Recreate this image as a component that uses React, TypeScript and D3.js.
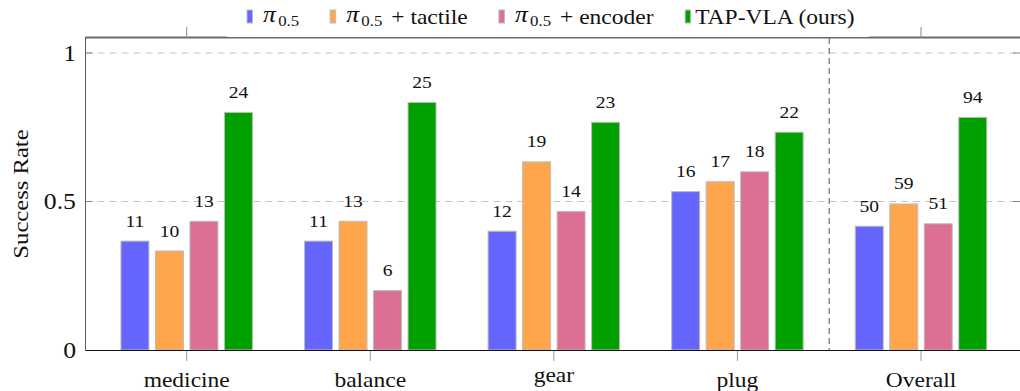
import React, { useEffect, useRef } from "react";
import * as d3 from "d3";

// ---- data ----
const categories = ["medicine", "balance", "gear", "plug", "Overall"];
const trials = [30, 30, 30, 30, 120];
const seriesKeys = ["pi", "tactile", "encoder", "tap"];
const seriesSuffix = ["", "+ tactile", "+ encoder", ""];
const seriesPlain = ["", "", "", "TAP-VLA (ours)"];
const seriesColors = ["#6666ff", "#ffa64d", "#db7093", "#00a000"];
const piCounts = [11, 11, 12, 16, 50];
const tactileCounts = [10, 13, 19, 17, 59];
const encoderCounts = [13, 6, 14, 18, 51];
const tapCounts = [24, 25, 23, 22, 94];
const yTickValues = [0, 0.5, 1];
const yTickLabels = ["0", "0.5", "1"];
const yTitle = "Success Rate";

const W = 1020;
const H = 391;
const SX = 1.12;
const FONT = '"Liberation Serif", "Times New Roman", "DejaVu Serif", serif';

export default function App() {
  const ref = useRef<SVGSVGElement>(null);

  useEffect(() => {
    const svg = d3.select(ref.current);
    svg.selectAll("*").remove();

    const left = 85.5;
    const right = 1023;
    const top = 38;
    const bottom = 350;

    const x = d3.scaleLinear().domain([0, 4]).range([186.7, 921]);
    const y = d3.scaleLinear().domain([0, 1.05]).range([bottom, bottom - 1.05 * 297]);

    const allCounts = [piCounts, tactileCounts, encoderCounts, tapCounts];
    const step = 34.5;
    const barW = 28;

    // gridlines
    svg
      .append("g")
      .selectAll("line")
      .data(yTickValues.filter((v) => v > 0))
      .join("line")
      .attr("x1", left)
      .attr("x2", right)
      .attr("y1", (d) => y(d))
      .attr("y2", (d) => y(d))
      .attr("stroke", "#c4c4c4")
      .attr("stroke-width", 1)
      .attr("stroke-dasharray", "7,5");

    // separator
    svg
      .append("line")
      .attr("x1", x(3.5))
      .attr("x2", x(3.5))
      .attr("y1", top)
      .attr("y2", bottom)
      .attr("stroke", "#555")
      .attr("stroke-width", 1)
      .attr("stroke-dasharray", "6,4");

    // bars
    allCounts.forEach((counts, s) => {
      const g = svg.append("g");
      const rows = counts.map((c, i) => ({ c, i, r: c / trials[i] }));
      g.selectAll("rect")
        .data(rows)
        .join("rect")
        .attr("x", (d) => x(d.i) + (s - 1.5) * step - barW / 2)
        .attr("y", (d) => y(d.r))
        .attr("width", barW)
        .attr("height", (d) => bottom - y(d.r))
        .attr("fill", seriesColors[s])
        .attr("stroke", "#bdbdbd")
        .attr("stroke-width", 1);
      g.selectAll("text")
        .data(rows)
        .join("text")
        .attr(
          "transform",
          (d) => `translate(${x(d.i) + (s - 1.5) * step},${y(d.r) - 14.5}) scale(${SX},1)`
        )
        .attr("text-anchor", "middle")
        .style("font-family", FONT)
        .style("font-size", "17.5px")
        .attr("fill", "#111")
        .text((d) => String(d.c));
    });

    // axes frame
    svg
      .append("line")
      .attr("x1", left)
      .attr("x2", right)
      .attr("y1", 37.5)
      .attr("y2", 37.5)
      .attr("stroke", "#6a6a6a")
      .attr("stroke-width", 2);
    svg
      .append("line")
      .attr("x1", left)
      .attr("x2", left)
      .attr("y1", top - 1)
      .attr("y2", bottom)
      .attr("stroke", "#5a5a5a")
      .attr("stroke-width", 1);
    svg
      .append("line")
      .attr("x1", left)
      .attr("x2", right)
      .attr("y1", bottom + 0.5)
      .attr("y2", bottom + 0.5)
      .attr("stroke", "#111")
      .attr("stroke-width", 1.2);

    // x ticks (bottom and top, outside)
    const xt = svg.append("g");
    categories.forEach((_, i) => {
      xt.append("line")
        .attr("x1", x(i))
        .attr("x2", x(i))
        .attr("y1", bottom + 1)
        .attr("y2", bottom + 11)
        .attr("stroke", "#999");
      xt.append("line")
        .attr("x1", x(i))
        .attr("x2", x(i))
        .attr("y1", 27)
        .attr("y2", top)
        .attr("stroke", "#888");
    });

    // y ticks (inside both sides)
    yTickValues
      .filter((v) => v > 0)
      .forEach((v) => {
        svg
          .append("line")
          .attr("x1", left)
          .attr("x2", left + 7)
          .attr("y1", y(v))
          .attr("y2", y(v))
          .attr("stroke", "#888");
        svg
          .append("line")
          .attr("x1", right - 10)
          .attr("x2", right)
          .attr("y1", y(v))
          .attr("y2", y(v))
          .attr("stroke", "#888");
      });

    // y tick labels
    svg
      .append("g")
      .selectAll("text")
      .data(yTickValues)
      .join("text")
      .attr("transform", (d) => `translate(76,${y(d) + 7.8}) scale(${SX},1)`)
      .attr("text-anchor", "end")
      .style("font-family", FONT)
      .style("font-size", "23px")
      .attr("fill", "#111")
      .text((_, i) => yTickLabels[i]);

    // y title
    svg
      .append("text")
      .attr("transform", `translate(28,${(top + bottom) / 2}) rotate(-90) scale(${SX},1)`)
      .attr("text-anchor", "middle")
      .style("font-family", FONT)
      .style("font-size", "22px")
      .attr("fill", "#111")
      .text(yTitle);

    // category labels (anchored at top of ink)
    const catSize = 21;
    svg
      .append("g")
      .selectAll("text")
      .data(categories)
      .join("text")
      .attr("transform", (d, i) => {
        const asc = /[bdfhklt]|[A-Z]/.test(d) ? 0.683 : 0.45;
        return `translate(${x(i)},${373 + asc * catSize}) scale(${SX},1)`;
      })
      .attr("text-anchor", "middle")
      .style("font-family", FONT)
      .style("font-size", `${catSize}px`)
      .attr("fill", "#111")
      .text((d) => d);

    // legend
    svg
      .append("rect")
      .attr("x", 227)
      .attr("y", 0)
      .attr("width", 869 - 227)
      .attr("height", 37)
      .attr("fill", "#fff");

    const lg = svg.append("g");
    let cx = 247;
    seriesKeys.forEach((_, s) => {
      lg.append("rect")
        .attr("x", cx)
        .attr("y", 10)
        .attr("width", 5.5)
        .attr("height", 13)
        .attr("fill", seriesColors[s])
        .attr("stroke", "#bdbdbd")
        .attr("stroke-width", 1);
      const tx = cx + (s < 3 ? 16 : 10);
      const t = lg
        .append("text")
        .attr("transform", `translate(${tx},23.5) scale(${SX},1)`)
        .style("font-family", FONT)
        .style("font-size", "21px")
        .attr("fill", "#111")
        .style("white-space", "pre");
      if (s < 3) {
        t.append("tspan").style("font-style", "italic").style("font-size", "23px").attr("dy", -2).text("π");
        t.append("tspan").style("font-size", "15px").attr("dx", 2).attr("dy", 4).text("0.5");
        if (seriesSuffix[s])
          t.append("tspan").style("font-size", "21px").attr("dx", 8).attr("dy", -2).text(seriesSuffix[s]);
      } else {
        t.text(seriesPlain[s]);
      }
      const w = (t.node() as SVGTextElement).getBBox().width * SX;
      cx = tx + w + 31;
    });
  }, []);

  return (
    <svg
      ref={ref}
      width={W}
      height={H}
      style={{ position: "absolute", left: 0, top: 0, display: "block", background: "#fff" }}
    />
  );
}
